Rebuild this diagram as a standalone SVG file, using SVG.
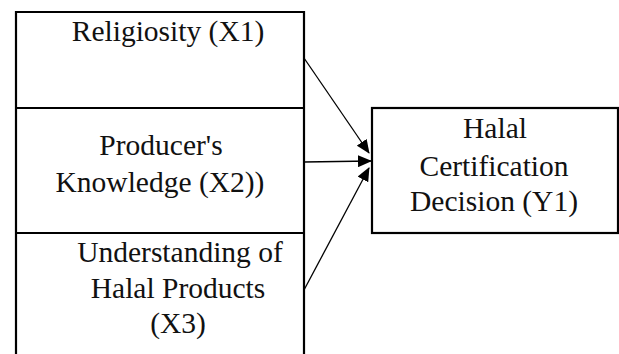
<svg xmlns="http://www.w3.org/2000/svg" width="619" height="354" viewBox="0 0 619 354">
<defs>
<style>
.box{fill:#fff;stroke:#000;stroke-width:2.2}
.t{font-family:"Liberation Serif","Times New Roman",serif;font-size:29.5px;fill:#111;text-anchor:middle}
.c{stroke:#000;stroke-width:1.3;fill:none;marker-end:url(#ah)}
</style>
<marker id="ah" viewBox="0 0 14 12" refX="13" refY="6" markerWidth="14" markerHeight="12" markerUnits="userSpaceOnUse" orient="auto">
<path d="M0,0 L14,6 L0,12 z" fill="#000"/>
</marker>
</defs>
<rect width="619" height="354" fill="#fff"/>
<g id="x1">
<path class="box" d="M16,360 L16,12 L304,12 L304,360"/>
<line class="box" x1="16" y1="108" x2="304" y2="108"/>
<text class="t" x="168" y="41">Religiosity (X1)</text>
</g>
<g id="x2">
<line class="box" x1="16" y1="233" x2="304" y2="233"/>
<text class="t" x="161" y="155">Producer's</text>
<text class="t" x="160" y="192">Knowledge (X2))</text>
</g>
<g id="x3">
<text class="t" x="180" y="262">Understanding of</text>
<text class="t" x="178" y="298">Halal Products</text>
<text class="t" x="178" y="333">(X3)</text>
</g>
<g id="y1">
<rect class="box" x="372" y="108" width="246" height="125"/>
<text class="t" x="495" y="138">Halal</text>
<text class="t" x="494" y="176">Certification</text>
<text class="t" x="494" y="211">Decision (Y1)</text>
</g>
<g id="connectors">
<line class="c" x1="304" y1="58" x2="369" y2="153"/>
<line class="c" x1="304" y1="162" x2="371" y2="161"/>
<line class="c" x1="304" y1="290" x2="369" y2="168"/>
</g>
</svg>
